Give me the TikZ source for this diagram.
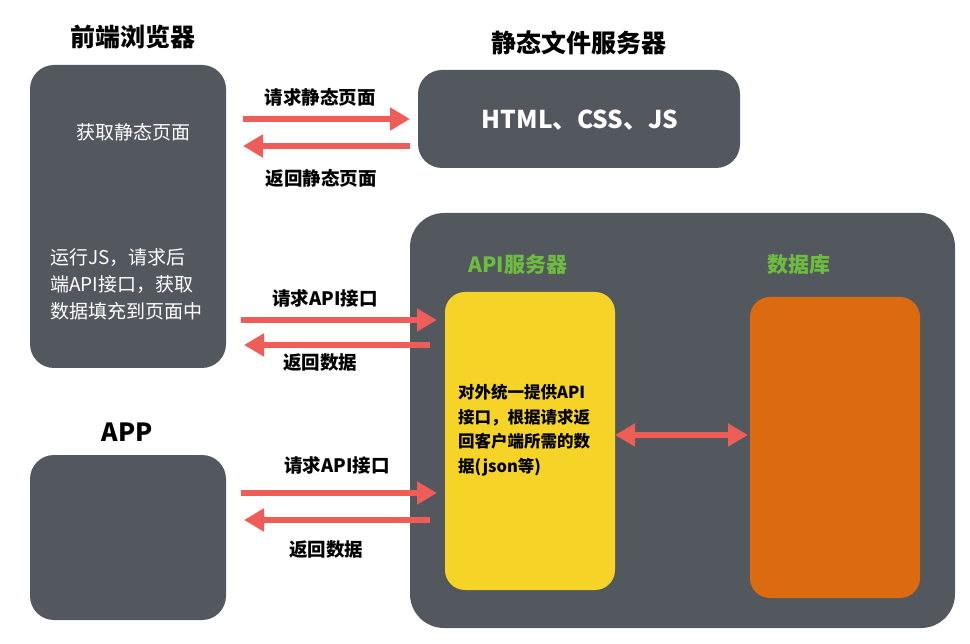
\documentclass[tikz,border=0pt]{standalone}
\usepackage{fontspec}
\setmainfont{Noto Sans CJK SC}
\usetikzlibrary{arrows.meta}
\definecolor{boxgray}{HTML}{53575E}
\definecolor{arrowred}{HTML}{EE5D58}
\definecolor{apigreen}{HTML}{6DBE3F}
\definecolor{apiyellow}{HTML}{F5D327}
\definecolor{dborange}{HTML}{DC6A10}
\tikzset{
  panel/.style={fill=boxgray, draw=none, rounded corners=#1},
  panel/.default=24pt,
  title/.style={font=\fontsize{25}{29}\selectfont\bfseries, text=black},
  lbl/.style={font=\fontsize{18.5}{22}\selectfont\bfseries, text=black},
  wtext/.style={font=\fontsize{19}{27}\selectfont, text=white, align=left},
  gtitle/.style={font=\fontsize{21}{25}\selectfont\bfseries, text=apigreen},
  flow/.style={draw=arrowred, line width=6pt, -{Triangle[length=20pt,width=22pt]}},
  biflow/.style={draw=arrowred, line width=6pt, {Triangle[length=20pt,width=22pt]}-{Triangle[length=20pt,width=22pt]}},
}
\begin{document}
\begin{tikzpicture}[x=1pt,y=-1pt]
\useasboundingbox (0,0) rectangle (970,644);
% titles
\node[title] (tbrowser) at (133,37) {前端浏览器};
\node[title] (tstatic) at (579,43) {静态文件服务器};
\node[title] (tapp) at (127,432) {APP};
% boxes
\path[panel] (30,65) rectangle (226,368);
\node (browser) at (128,216.5) [minimum width=196pt, minimum height=303pt] {};
\path[panel] (418,70) rectangle (740,168);
\node[font=\fontsize{24.5}{28}\selectfont\bfseries, text=white] (static) at (580,120) {HTML、CSS、JS};
\path[panel=34pt] (410,213) rectangle (955,628);
\node (server) at (682.5,420.5) [minimum width=545pt, minimum height=415pt] {};
\path[panel] (30,455) rectangle (226,620);
\node (app) at (128,537.5) [minimum width=196pt, minimum height=165pt] {};
% browser texts
\node[wtext] (get) at (133,132) {获取静态页面};
\node[wtext, anchor=north west, inner sep=0pt] (run) at (50,248) {运行JS，请求后\\端API接口，获取\\数据填充到页面中};
% server internals
\node[gtitle] (tapi) at (518,265) {API服务器};
\node[gtitle] (tdb) at (799,265) {数据库};
\path[fill=apiyellow, rounded corners=20pt] (445,292) rectangle (615,590);
\node (api) at (530,441) [minimum width=170pt, minimum height=298pt, inner sep=0pt] {};
\path[fill=dborange, rounded corners=20pt] (750,297) rectangle (920,598);
\node (db) at (835,447.5) [minimum width=170pt, minimum height=301pt, inner sep=0pt] {};
\node[font=\fontsize{16.5}{24.5}\selectfont\bfseries, text=black, align=left, anchor=north west, inner sep=0pt] (apitext) at (458,384) {对外统一提供API\\接口，根据请求返\\回客户端所需的数\\据(json等)};
% arrows top
\coordinate (a1s) at (243,119); \coordinate (a1e) at (410,119);
\coordinate (a2s) at (410,146); \coordinate (a2e) at (243,146);
\draw[flow] (a1s) -- (a1e);
\draw[flow] (a2s) -- (a2e);
\node[lbl] (l1) at (320,97) {请求静态页面};
\node[lbl] (l2) at (321,178) {返回静态页面};
% arrows middle
\coordinate (b1s) at (241,320); \coordinate (b1e) at (437,320);
\coordinate (b2s) at (430,345); \coordinate (b2e) at (244,345);
\draw[flow] (b1s) -- (b1e);
\draw[flow] (b2s) -- (b2e);
\node[lbl] (l3) at (325,298) {请求API接口};
\node[lbl] (l4) at (320,363) {返回数据};
% arrows bottom
\coordinate (c1s) at (241,493); \coordinate (c1e) at (437,493);
\coordinate (c2s) at (430,520); \coordinate (c2e) at (244,520);
\draw[flow] (c1s) -- (c1e);
\draw[flow] (c2s) -- (c2e);
\node[lbl] (l5) at (337,465) {请求API接口};
\node[lbl] (l6) at (326,550) {返回数据};
% api <-> db
\coordinate (ds) at (615,435); \coordinate (de) at (748,435);
\draw[biflow] (ds) -- (de);
\end{tikzpicture}
\end{document}
